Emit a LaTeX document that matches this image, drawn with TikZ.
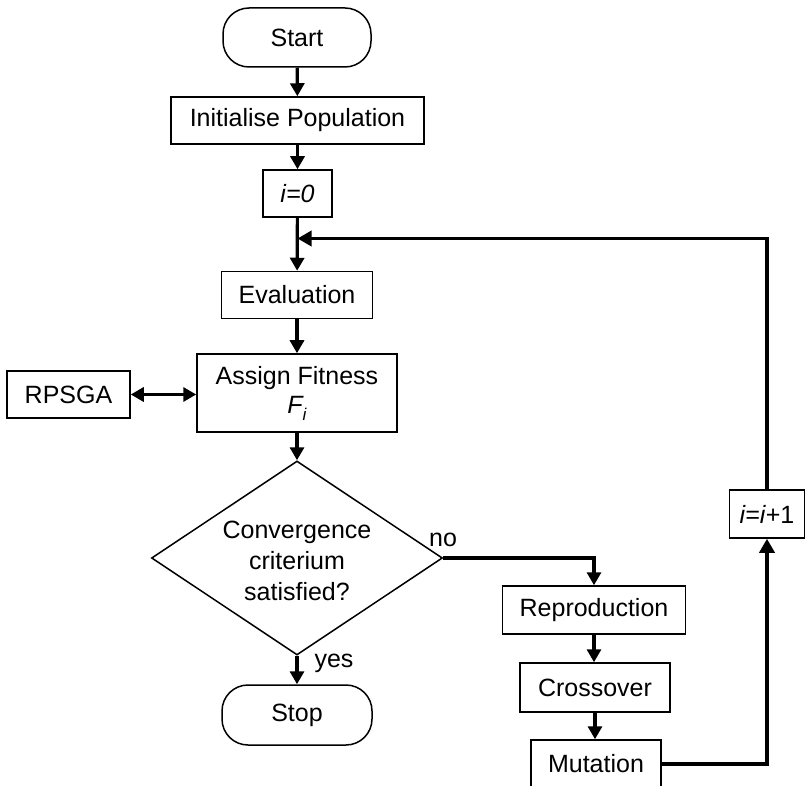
\documentclass[tikz,border=0pt]{standalone}
\usepackage{fontspec}
\setmainfont{Liberation Sans}
\usetikzlibrary{arrows.meta,shapes.geometric}
\begin{document}
\begin{tikzpicture}[x=1pt,y=-1pt,
  every node/.style={font=\fontsize{25}{31}\selectfont, inner sep=0pt},
  box/.style={draw, line width=1.5pt, minimum width=#1, minimum height=47pt},
  term/.style={draw, line width=1.5pt, rounded corners=26pt, minimum width=148pt, minimum height=59pt},
  decision/.style={draw, line width=1.5pt, diamond, minimum width=291pt, minimum height=194pt},
  arr/.style={line width=3.2pt, -{Triangle[length=13pt,width=14pt]}},
  loopline/.style={line width=3.8pt, -{Triangle[length=14pt,width=15pt]}},
  dblarr/.style={line width=3.2pt, {Triangle[length=13pt,width=14pt]}-{Triangle[length=13pt,width=14pt]}}
]
\useasboundingbox (0,0) rectangle (806,786);
\clip (0,0) rectangle (806,786);

\node[term] (start) at (297,37.5) {Start};
\node[box=253pt] (init) at (297.5,120.5) {Initialise Population};
\node[box=69pt] (izero) at (297.5,193.5) {\itshape i=0};
\node[box=151pt] (eval) at (297,295) {Evaluation};
\node[box=200pt, minimum height=78pt, align=center] (assign) at (297,393)
  {Assign Fitness\\[-2pt]{\itshape F\raisebox{-7pt}{\fontsize{17}{17}\selectfont i}}};
\node[box=123pt] (rpsga) at (68.5,394.5) {RPSGA};
\node[decision] (conv) at (297,558) {};
\node[align=center] (convtext) at (297,561) {Convergence\\criterium\\satisfied?};
\node[term, minimum width=150pt, minimum height=60pt] (stop) at (297,715) {Stop};
\node[box=183pt, minimum height=48pt] (repro) at (594,610) {Reproduction};
\node[box=150pt, minimum height=49pt] (cross) at (595,687.5) {Crossover};
\node[box=130pt, minimum height=48pt] (mut) at (596,764) {Mutation};
\node[box=75pt, minimum height=48pt] (iplus) at (767,514) {\textit{i=i}+1};
\node (nolabel) at (443,540) {no};
\node (yeslabel) at (334,663) {yes};
\coordinate (join) at (297.5,238.5);

\draw[arr] (start) -- (init);
\draw[arr] (init) -- (izero);
\draw[arr] (izero) -- (eval);
\draw[arr] (eval) -- (assign);
\draw[arr] (assign) -- (conv.north);
\draw[dblarr] (rpsga.east) -- (rpsga.east -| assign.west);
\draw[arr] (conv.south) -- (stop);
\draw[arr] (conv.east) -| (repro.north);
\draw[arr] (repro) -- (repro.south |- cross.north);
\draw[arr] (cross) -- (cross.south |- mut.north);
\draw[loopline] (mut.east) -| (iplus.south);
\draw[loopline] (iplus.north) |- (join);
\end{tikzpicture}
\end{document}
